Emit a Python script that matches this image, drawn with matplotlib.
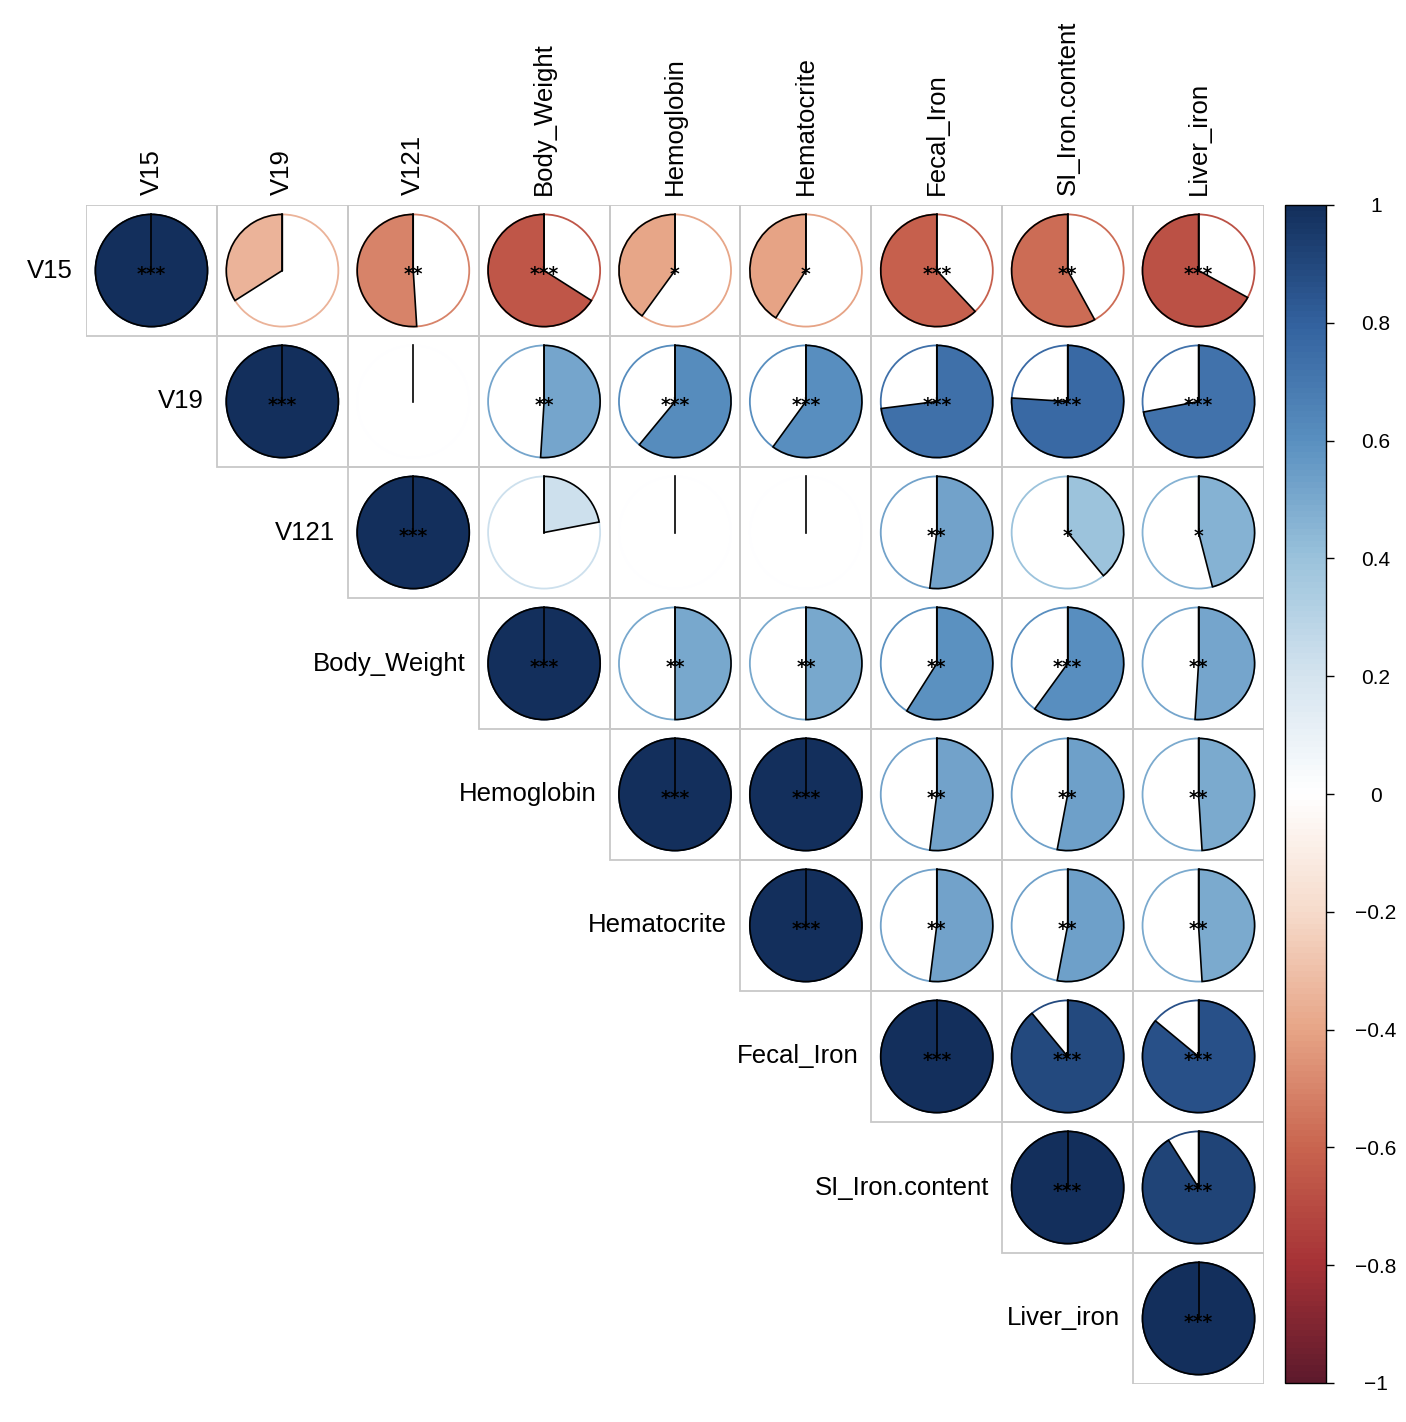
import numpy as np
import matplotlib
matplotlib.use('Agg')
import matplotlib.pyplot as plt
from matplotlib.patches import Wedge, Circle, Rectangle
from matplotlib.colors import LinearSegmentedColormap, Normalize
from matplotlib.cm import ScalarMappable

plt.rcParams['font.family'] = ['Liberation Sans', 'DejaVu Sans']

variables = ['V15', 'V19', 'V121', 'Body_Weight', 'Hemoglobin', 'Hematocrite',
             'Fecal_Iron', 'SI_Iron.content', 'Liver_iron']

# upper triangle of the correlation matrix, each row starts at the diagonal
corr_v15 = [1.00, -0.34, -0.51, -0.66, -0.40, -0.41, -0.62, -0.58, -0.67]
corr_v19 = [1.00, 0.00, 0.51, 0.61, 0.60, 0.73, 0.76, 0.72]
corr_v121 = [1.00, 0.22, 0.00, 0.00, 0.52, 0.39, 0.46]
corr_bw = [1.00, 0.50, 0.50, 0.59, 0.60, 0.51]
corr_hb = [1.00, 1.00, 0.52, 0.53, 0.49]
corr_hct = [1.00, 0.52, 0.53, 0.49]
corr_fecal = [1.00, 0.89, 0.86]
corr_si = [1.00, 0.91]
corr_liver = [1.00]

# significance marks
stars_v15 = ['***', '', '**', '***', '*', '*', '***', '**', '***']
stars_v19 = ['***', '', '**', '***', '***', '***', '***', '***']
stars_v121 = ['***', '', '', '', '**', '*', '*']
stars_bw = ['***', '**', '**', '**', '***', '**']
stars_hb = ['***', '***', '**', '**', '**']
stars_hct = ['***', '**', '**', '**']
stars_fecal = ['***', '***', '***']
stars_si = ['***', '***']
stars_liver = ['***']

cbar_ticks = [-1, -0.8, -0.6, -0.4, -0.2, 0, 0.2, 0.4, 0.6, 0.8, 1]

corr_rows = [corr_v15, corr_v19, corr_v121, corr_bw, corr_hb, corr_hct,
             corr_fecal, corr_si, corr_liver]
star_rows = [stars_v15, stars_v19, stars_v121, stars_bw, stars_hb, stars_hct,
             stars_fecal, stars_si, stars_liver]

# RdBu-like palette as it shows in the picture (a bit muted, white in the middle)
cmap = LinearSegmentedColormap.from_list('corr_rdbu', [
    '#5E1A2C', '#A63236', '#C9654F', '#E7A587', '#F6DBCB', '#FFFFFF',
    '#D5E4EF', '#9BC3DC', '#5A90C0', '#33629F', '#132F5C'], N=200)
norm = Normalize(vmin=-1, vmax=1)

W, H = 1406, 1422
fig = plt.figure(figsize=(W / 100, H / 100), dpi=100)
ax = fig.add_axes([86 / W, 1 - 1384 / H, 1178 / W, 1179 / H])
n = len(variables)
ax.set_xlim(0, n)
ax.set_ylim(0, n)
ax.axis('off')

rad = 0.428
for i, (row, stars) in enumerate(zip(corr_rows, star_rows)):
    for k, (r, s) in enumerate(zip(row, stars)):
        j = i + k
        cx, cy = j + 0.5, n - i - 0.5
        ax.add_patch(Rectangle((j, n - i - 1), 1, 1, fill=False,
                               edgecolor='#c8c8c8', lw=1.3, zorder=1))
        color = cmap(norm(r))
        ax.add_patch(Circle((cx, cy), rad, facecolor='white', edgecolor=color,
                            lw=1.3, zorder=2))
        # positive: clockwise from 12 o'clock, negative: counterclockwise
        if r > 0:
            t1, t2 = 90 - 360 * r, 90
        else:
            t1, t2 = 90, 90 + 360 * abs(r)
        if abs(r) > 0:
            ax.add_patch(Wedge((cx, cy), rad, t1, t2, facecolor=color,
                               edgecolor='black', lw=1.2, zorder=3))
        ax.plot([cx, cx], [cy, cy + rad], color='black', lw=1.2, zorder=4)
        if s:
            ax.text(cx, cy - 0.074, s, ha='center', va='baseline', fontsize=13.5,
                    family='DejaVu Sans', weight='bold', zorder=5)

# row labels left of the diagonal, column labels on top
for i, name in enumerate(variables):
    ax.text(i - 0.1, n - i - 0.5, name, ha='right', va='center', fontsize=18.5)
    ax.text(i + 0.5, n + 0.076, name, ha='center', va='bottom',
            rotation=90, fontsize=18.5)

cax = fig.add_axes([1285 / W, 1 - 1383 / H, 41 / W, 1178 / H])
sm = ScalarMappable(norm=norm, cmap=cmap)
cbar = fig.colorbar(sm, cax=cax, ticks=cbar_ticks)
cbar.outline.set_linewidth(1.0)
cbar.ax.set_yticklabels([f'{t:g}'.replace('-', '\u2212') for t in cbar_ticks])
cbar.ax.tick_params(length=6, width=1, pad=30, labelsize=15)
for lab in cbar.ax.get_yticklabels():
    lab.set_horizontalalignment('center')

fig.savefig('out.png', dpi=100, facecolor='white')
